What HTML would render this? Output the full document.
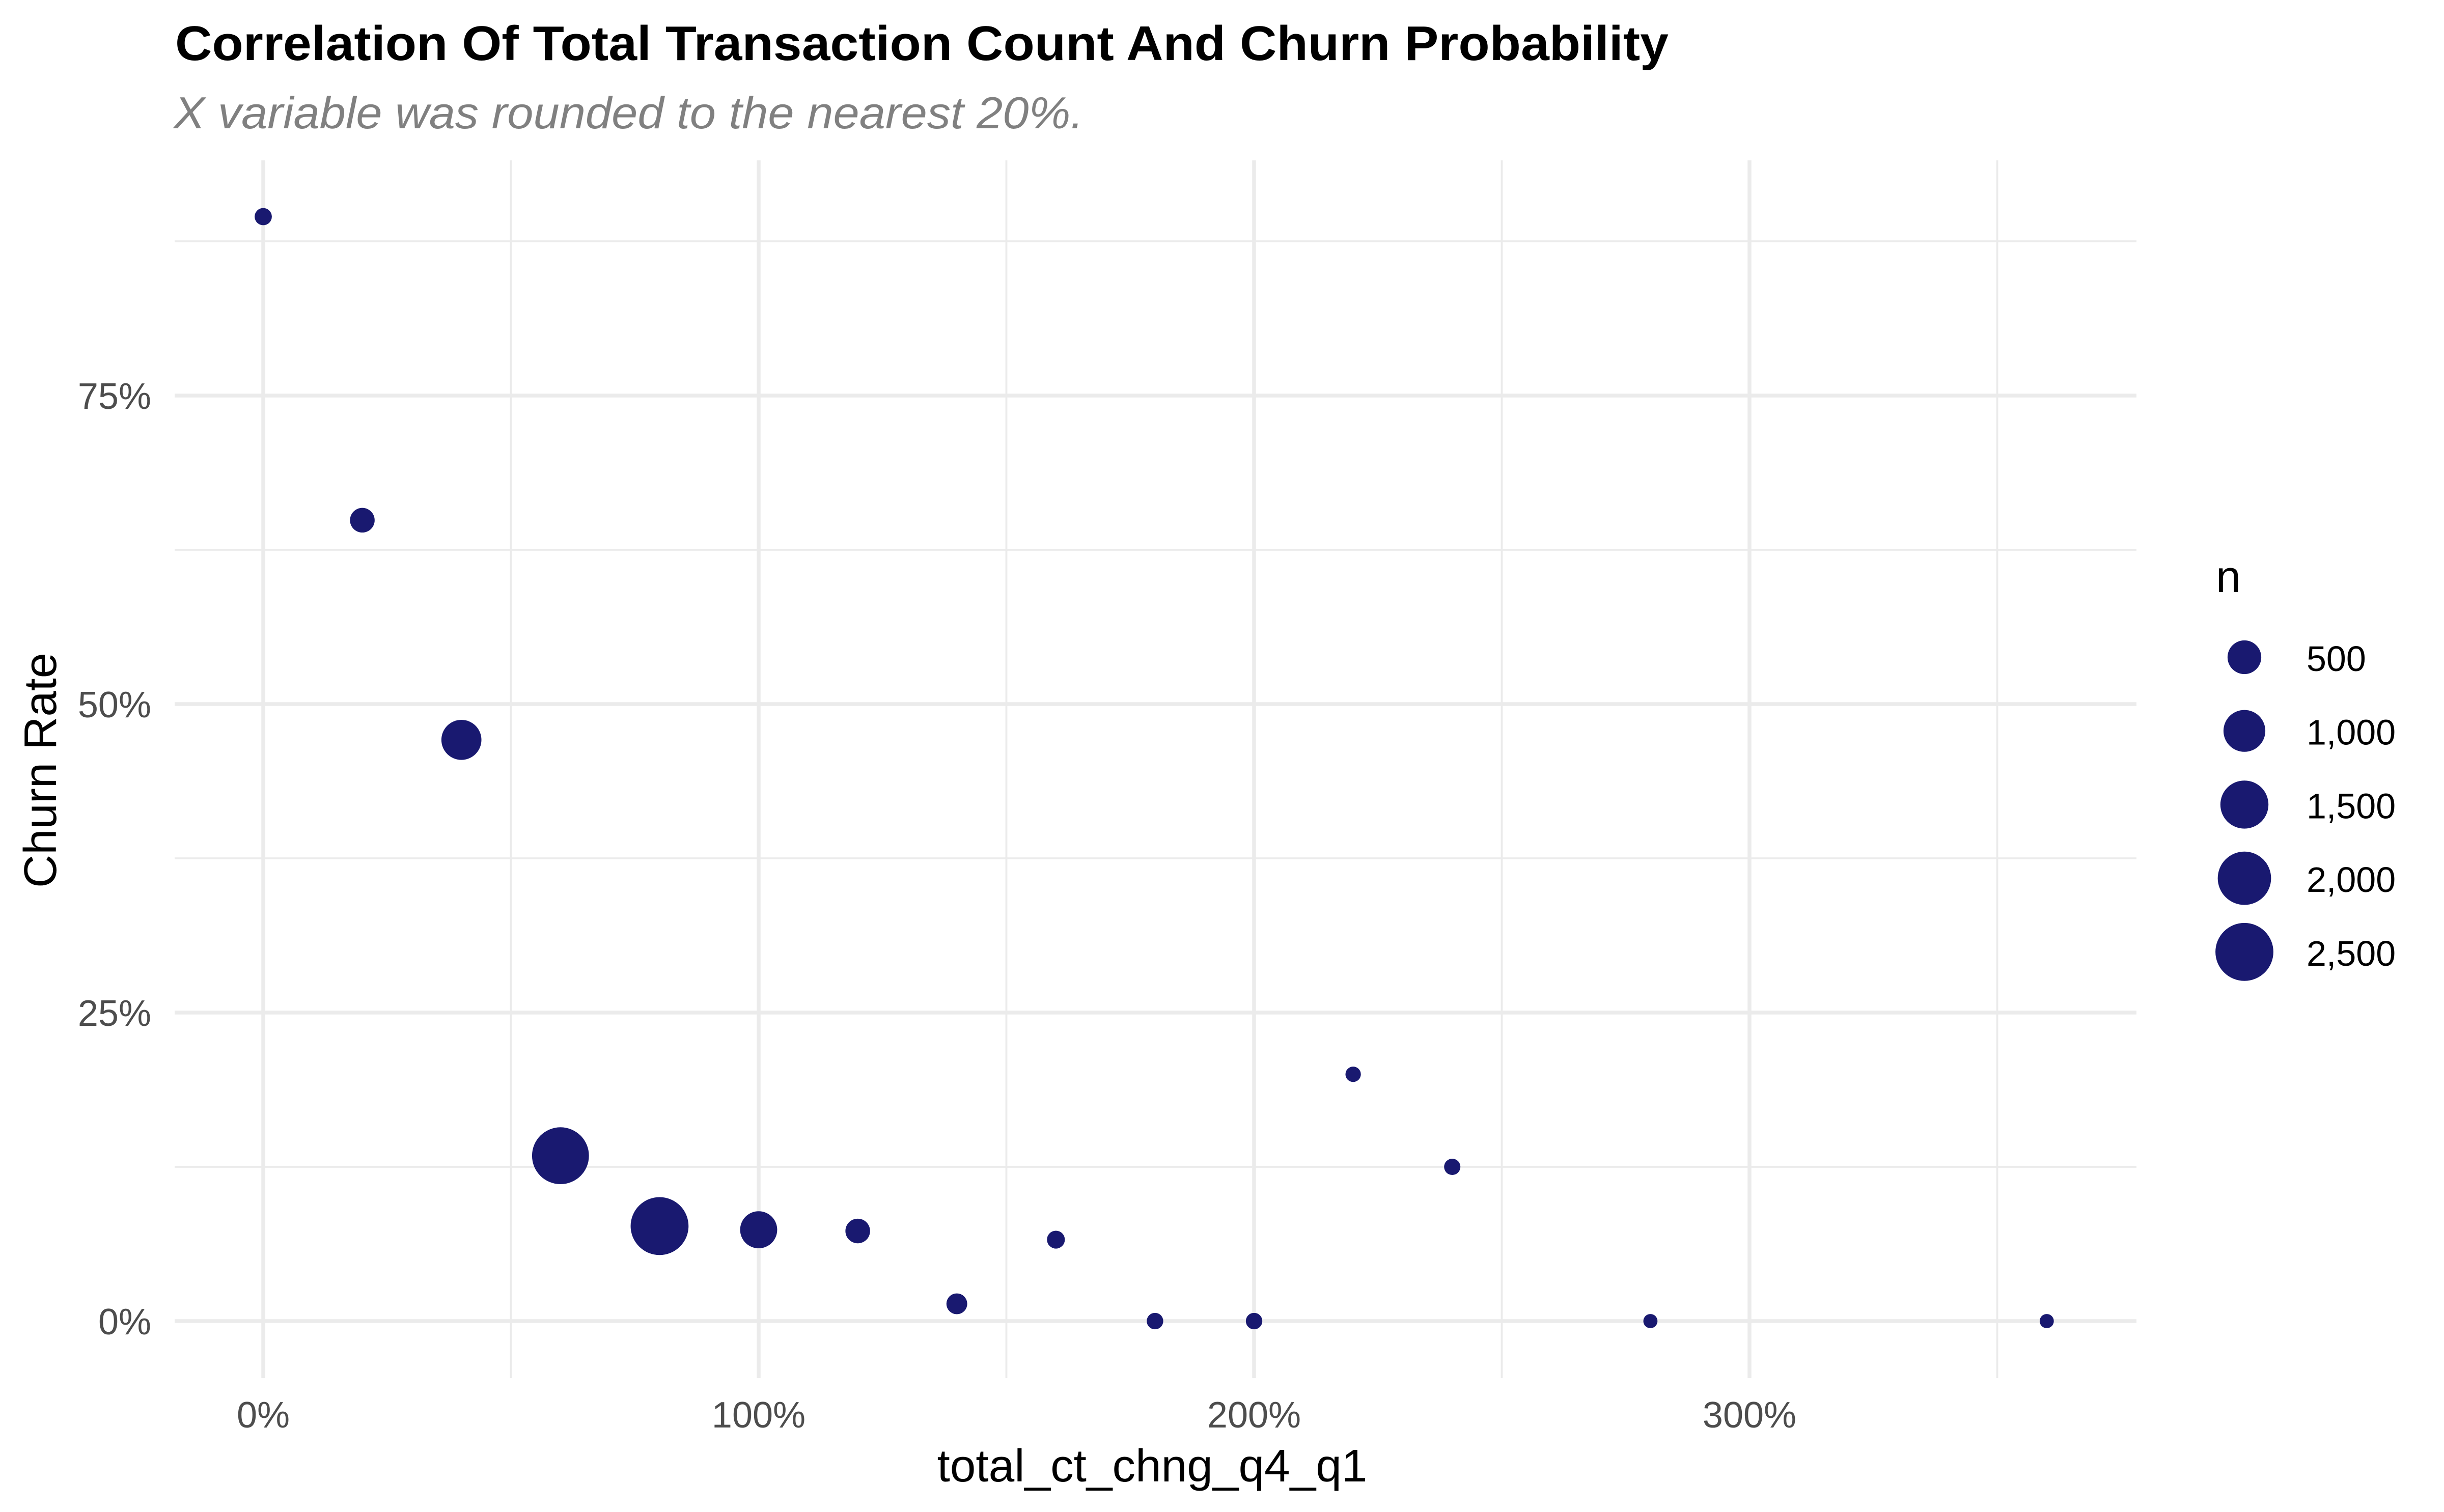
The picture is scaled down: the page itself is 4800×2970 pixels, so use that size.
<!DOCTYPE html>
<html><head><meta charset="utf-8"><style>html,body{margin:0;padding:0;background:#fff}svg{display:block}</style></head>
<body>
<svg id="chart" width="4800" height="2970" viewBox="0 0 4800 2970" xmlns="http://www.w3.org/2000/svg" font-family="Liberation Sans, sans-serif">
<rect width="4800" height="2970" fill="#fff"/>
<text x="344" y="118" font-size="96" font-weight="bold" fill="#000" textLength="2933" lengthAdjust="spacingAndGlyphs">Correlation Of Total Transaction Count And Churn Probability</text>
<text x="341" y="252" font-size="88" font-style="italic" fill="#808080" textLength="1787" lengthAdjust="spacingAndGlyphs">X variable was rounded to the nearest 20%.</text>
<g id="grid"></g>
<g id="points"></g>
<g id="axes"></g>
<text x="2263" y="2910" font-size="90" text-anchor="middle" fill="#000" textLength="845" lengthAdjust="spacingAndGlyphs">total_ct_chng_q4_q1</text>
<text transform="translate(110,1513) rotate(-90)" font-size="90" text-anchor="middle" fill="#000" textLength="462" lengthAdjust="spacingAndGlyphs">Churn Rate</text>
<text x="4352" y="1163" font-size="88" fill="#000">n</text>
<g id="legend"></g>
</svg>
<script>
const xValues = [0, 0.2, 0.4, 0.6, 0.8, 1.0, 1.2, 1.4, 1.6, 1.8, 2.0, 2.2, 2.4, 2.8, 3.6];
const churnRates = [0.895, 0.649, 0.471, 0.134, 0.077, 0.074, 0.073, 0.014, 0.066, 0, 0, 0.200, 0.125, 0, 0];
const counts = [12, 144, 874, 2382, 2494, 684, 144, 58, 18, 7, 7, 2, 6, 0, 0];
const xTickValues = [0, 1, 2, 3];
const xTickLabels = ["0%", "100%", "200%", "300%"];
const yTickValues = [0, 0.25, 0.5, 0.75];
const yTickLabels = ["0%", "25%", "50%", "75%"];
const legendValues = [500, 1000, 1500, 2000, 2500];
const legendLabels = ["500", "1,000", "1,500", "2,000", "2,500"];

const NS = "http://www.w3.org/2000/svg";
const panel = {left: 343, right: 4196, top: 315, bottom: 2707};
function xScale(v){ return 517 + 973 * v; }
function yScale(p){ return 2595 - 2424 * p; }
function rScale(n){ return 13.9 + 0.86 * Math.sqrt(n); }
function mk(tag, attrs, parent){
  const el = document.createElementNS(NS, tag);
  for (const k in attrs) el.setAttribute(k, attrs[k]);
  parent.appendChild(el);
  return el;
}
const grid = document.getElementById('grid');
const axes = document.getElementById('axes');
const pts = document.getElementById('points');
const legend = document.getElementById('legend');

for (let i = 0; i < xTickValues.length; i++) {
  const v = xTickValues[i] + 0.5;
  const gx = xScale(v);
  if (gx > panel.right) continue;
  const l = mk('line', {x1: gx, x2: gx, y1: panel.top, y2: panel.bottom, stroke: '#ebebeb', 'stroke-width': 3.8}, grid);
  
  
}
for (let i = 0; i < yTickValues.length; i++) {
  const v = yTickValues[i] + 0.125;
  const gy = yScale(v);
  if (gy < panel.top) continue;
  const l = mk('line', {x1: panel.left, x2: panel.right, y1: gy, y2: gy, stroke: '#ebebeb', 'stroke-width': 3.8}, grid);
  
  
}
for (let i = 0; i < xTickValues.length; i++) {
  const gx = xScale(xTickValues[i]);
  const l = mk('line', {x1: gx, x2: gx, y1: panel.top, y2: panel.bottom, stroke: '#ebebeb', 'stroke-width': 7.5}, grid);
  
  
  const t = mk('text', {x: gx, y: 2804, 'font-size': 72, 'text-anchor': 'middle', fill: '#4d4d4d'}, axes);
  t.textContent = xTickLabels[i];
  
  
}
for (let i = 0; i < yTickValues.length; i++) {
  const gy = yScale(yTickValues[i]);
  const l = mk('line', {x1: panel.left, x2: panel.right, y1: gy, y2: gy, stroke: '#ebebeb', 'stroke-width': 7.5}, grid);
  
  
  const t = mk('text', {x: 297, y: gy + 26, 'font-size': 72, 'text-anchor': 'end', fill: '#4d4d4d'}, axes);
  t.textContent = yTickLabels[i];
  
  
}
for (let i = 0; i < xValues.length; i++) {
  const c = mk('circle', {cx: xScale(xValues[i]), cy: yScale(churnRates[i]), r: rScale(counts[i]), fill: '#191970'}, pts);
  
  
}
for (let i = 0; i < legendValues.length; i++) {
  const cy = 1291 + i * 144.7;
  const c = mk('circle', {cx: 4408, cy: cy, r: rScale(legendValues[i]), fill: '#191970'}, legend);
  
  
  const t = mk('text', {x: 4530, y: cy + 27, 'font-size': 70, fill: '#000'}, legend);
  t.textContent = legendLabels[i];
  
  
}
</script>
</body></html>
